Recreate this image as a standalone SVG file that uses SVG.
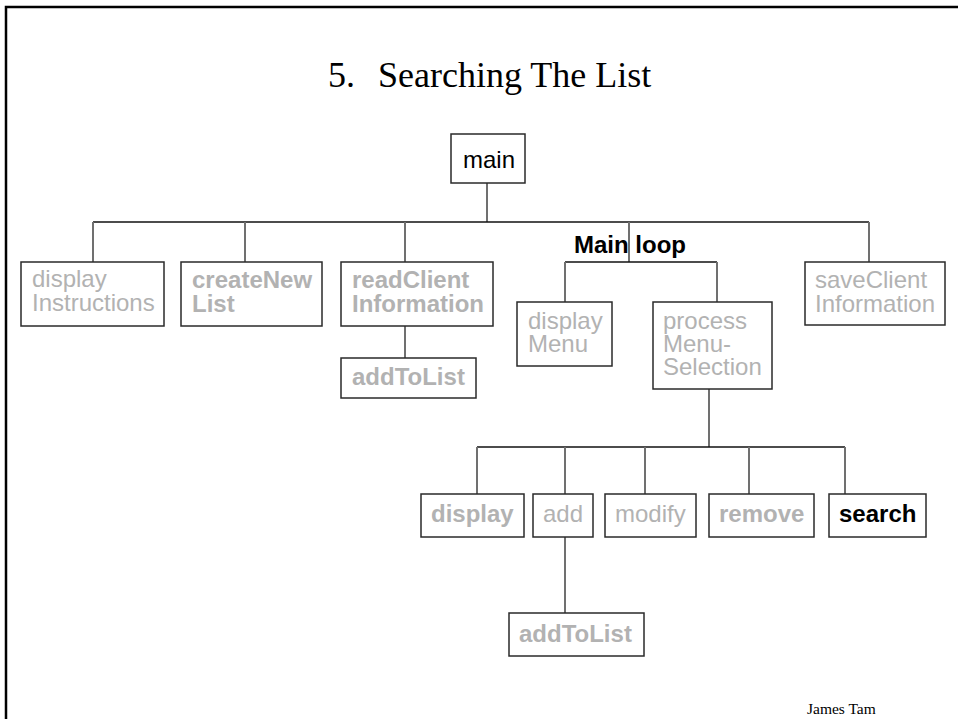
<svg xmlns="http://www.w3.org/2000/svg" width="958" height="719" viewBox="0 0 958 719">
  <style>
    .box { fill: #ffffff; stroke: #2a2a2a; stroke-width: 1.5; }
    .h { stroke: #111111; stroke-width: 1.3; fill: none; }
    .v { stroke: #707070; stroke-width: 2; fill: none; }
    .lbl { font-family: "Liberation Sans", Arial, sans-serif; font-size: 24px; }
    .dim { fill: #b2b2b2; }
    .on { fill: #000000; }
    .b { font-weight: bold; }
  </style>

  <rect x="0" y="0" width="958" height="719" fill="#ffffff"/>
  <!-- slide frame (top and left edges visible) -->
  <rect x="6" y="7" width="1000" height="1000" fill="none" stroke="#000000" stroke-width="2.5"/>

  <!-- title -->
  <text y="87" font-family="Liberation Serif, 'Times New Roman', serif" font-size="36" fill="#000000"><tspan x="328">5.</tspan><tspan x="378">Searching The List</tspan></text>

  <!-- connectors -->
  <g id="connectors">
    <line class="v" x1="487" y1="183" x2="487" y2="222"/>
    <line class="h" x1="93" y1="222" x2="869" y2="222"/>
    <line class="v" x1="93" y1="222" x2="93" y2="262"/>
    <line class="v" x1="245" y1="222" x2="245" y2="262"/>
    <line class="v" x1="405" y1="222" x2="405" y2="262"/>
    <line class="v" x1="629" y1="222" x2="629" y2="262"/>
    <line class="v" x1="869" y1="222" x2="869" y2="262"/>
    <line class="v" x1="405" y1="326" x2="405" y2="358"/>
    <line class="h" x1="565" y1="262" x2="717" y2="262"/>
    <line class="v" x1="565" y1="262" x2="565" y2="302"/>
    <line class="v" x1="717" y1="262" x2="717" y2="302"/>
    <line class="v" x1="709" y1="389" x2="709" y2="447"/>
    <line class="h" x1="477" y1="447" x2="845" y2="447"/>
    <line class="v" x1="477" y1="447" x2="477" y2="494"/>
    <line class="v" x1="565" y1="447" x2="565" y2="494"/>
    <line class="v" x1="645" y1="447" x2="645" y2="494"/>
    <line class="v" x1="749" y1="447" x2="749" y2="494"/>
    <line class="v" x1="845" y1="447" x2="845" y2="494"/>
    <line class="v" x1="565" y1="537" x2="565" y2="613"/>
  </g>

  <g id="main">
    <rect class="box" x="451" y="134" width="74" height="49"/>
    <text class="lbl on" x="463" y="168">main</text>
  </g>

  <g id="displayInstructions">
    <rect class="box" x="21" y="262" width="143" height="64"/>
    <text class="lbl dim" x="32" y="287">display</text>
    <text class="lbl dim" x="32" y="311">Instructions</text>
  </g>

  <g id="createNewList">
    <rect class="box" x="181" y="262" width="141" height="64"/>
    <text class="lbl dim b" x="192" y="288">createNew</text>
    <text class="lbl dim b" x="192" y="312">List</text>
  </g>

  <g id="readClientInformation">
    <rect class="box" x="341" y="262" width="152" height="64"/>
    <text class="lbl dim b" x="352" y="288">readClient</text>
    <text class="lbl dim b" x="352" y="312">Information</text>
  </g>

  <g id="addToList1">
    <rect class="box" x="341" y="358" width="135" height="40"/>
    <text class="lbl dim b" x="352" y="385">addToList</text>
  </g>

  <g id="mainLoop">
    <text class="lbl on b" x="574" y="253">Main loop</text>
  </g>

  <g id="displayMenu">
    <rect class="box" x="517" y="302" width="95" height="64"/>
    <text class="lbl dim" x="528" y="329">display</text>
    <text class="lbl dim" x="528" y="352">Menu</text>
  </g>

  <g id="processMenuSelection">
    <rect class="box" x="653" y="302" width="119" height="87"/>
    <text class="lbl dim" x="663" y="329">process</text>
    <text class="lbl dim" x="663" y="352">Menu-</text>
    <text class="lbl dim" x="663" y="375">Selection</text>
  </g>

  <g id="saveClientInformation">
    <rect class="box" x="805" y="262" width="140" height="63"/>
    <text class="lbl dim" x="815" y="288">saveClient</text>
    <text class="lbl dim" x="815" y="312">Information</text>
  </g>

  <g id="display">
    <rect class="box" x="421" y="494" width="103" height="43"/>
    <text class="lbl dim b" x="431" y="522">display</text>
  </g>

  <g id="add">
    <rect class="box" x="533" y="494" width="60" height="43"/>
    <text class="lbl dim" x="543" y="522">add</text>
  </g>

  <g id="modify">
    <rect class="box" x="605" y="494" width="91" height="43"/>
    <text class="lbl dim" x="615" y="522">modify</text>
  </g>

  <g id="remove">
    <rect class="box" x="709" y="494" width="105" height="43"/>
    <text class="lbl dim b" x="719" y="522">remove</text>
  </g>

  <g id="search">
    <rect class="box" x="829" y="494" width="97" height="43"/>
    <text class="lbl on b" x="839" y="522">search</text>
  </g>

  <g id="addToList2">
    <rect class="box" x="509" y="613" width="135" height="43"/>
    <text class="lbl dim b" x="519" y="642">addToList</text>
  </g>

  <!-- footer -->
  <text x="807" y="714" font-family="Liberation Serif, 'Times New Roman', serif" font-size="15.5" fill="#000000">James Tam</text>
</svg>
